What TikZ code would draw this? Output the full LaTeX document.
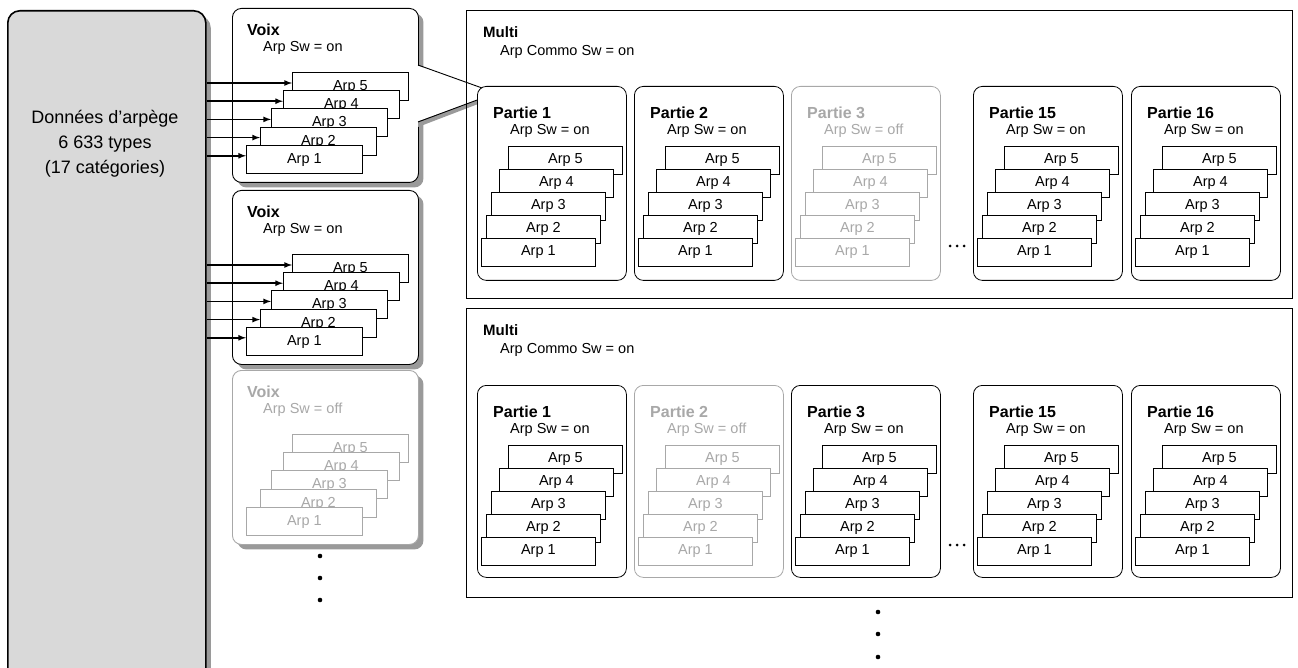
\documentclass[tikz,border=0pt]{standalone}
\usepackage{fontspec}
\setmainfont{Liberation Sans}
\usetikzlibrary{shadows}
\definecolor{OffGray}{HTML}{A8A8A8}
\definecolor{DataGray}{HTML}{D9D9D9}
\definecolor{ShadowGray}{HTML}{9A9A9A}

\tikzset{
  shad/.style={drop shadow={shadow xshift=5pt, shadow yshift=-5pt, fill=ShadowGray, opacity=1}},
  voixbox/.style={draw, rounded corners=9pt, fill=white, line width=0.9pt, minimum width=186pt, minimum height=174pt, anchor=north west, inner sep=0pt},
  partbox/.style={draw, rounded corners=9pt, fill=white, line width=0.8pt, minimum width=149pt, minimum height=194pt, anchor=north west, inner sep=0pt},
  multibox/.style={draw, line width=0.6pt, minimum width=826pt, minimum height=288pt, anchor=north west, inner sep=0pt},
  arpbox/.style={draw, fill=white, line width=0.8pt, minimum width=116pt, minimum height=28pt, anchor=north west, inner sep=0pt},
  arptext/.style={font=\fontsize{14.5}{16}\selectfont, inner sep=0pt},
  ttl/.style={font=\bfseries\fontsize{16}{18}\selectfont, anchor=west, inner sep=0pt},
  sub/.style={font=\fontsize{14.5}{16}\selectfont, anchor=west, inner sep=0pt},
  arr/.style={-latex, line width=1.6pt},
}

\newcommand{\voixstack}[4]{% name, x, y, colour
  \foreach \i/\o in {5/60,4/51,3/39,2/28,1/14}{%
    \node[arpbox, draw=#4] (#1\i) at ({#2+\o},{#3+64+(5-\i)*18.2}) {};
    \node[arptext, text=#4] at ([yshift=-15pt]#1\i.north) {Arp \i};
    \coordinate (#1\i in) at ([yshift=-11pt]#1\i.north west);
  }%
}
\newcommand{\partstack}[4]{% name, x, y, colour
  \foreach \i/\o in {5/31,4/22,3/14,2/9,1/4}{%
    \node[arpbox, draw=#4, minimum width=114pt] (#1\i) at ({#2+\o},{#3+60+(5-\i)*23}) {};
    \node[arptext, text=#4] at ([yshift=-14pt]#1\i.north) {Arp \i};
  }%
}

\begin{document}
\begin{tikzpicture}[x=1pt, y=-1pt]
\useasboundingbox (0,0) rectangle (1298,668);

% data
\node[draw, line width=1.6pt, rounded corners=12pt, fill=DataGray, shad, minimum width=198pt, minimum height=680pt, anchor=north west] (data) at (7,10) {};
\node[align=center, font=\fontsize{18}{25}\selectfont] (datatxt) at (105,144) {Données d'arpège\\6 633 types\\(17 catégories)};

% voix
\node[voixbox, shad] (voix1) at (232,8) {};
\node[voixbox, shad] (voix2) at (232,190) {};
\node[voixbox, shad, draw=OffGray] (voix3) at (232,370) {};

% callout
\fill[ShadowGray] (418,68) -- (499,96) -- (418,127) -- cycle;
\fill[white] (416,65) -- (496,93) -- (416,122) -- cycle;
\coordinate (tip) at (496,93);
\draw[line width=0.9pt] (418,65) -- (tip) -- (418,122);

\foreach \v/\c/\s in {1/black/on,2/black/on,3/OffGray/off}{
  \node[ttl, text=\c] (vt\v) at ([xshift=15pt, yshift=-22pt]voix\v.north west) {Voix};
  \node[sub, text=\c] (vs\v) at ([xshift=31pt, yshift=-40pt]voix\v.north west) {Arp Sw = \s};
}
\voixstack{va}{232}{8}{black}
\voixstack{vb}{232}{190}{black}
\voixstack{vc}{232}{370}{OffGray}

\foreach \i in {5,4,3,2,1}{
  \draw[arr] (data.east |- va\i in) -- (va\i in);
  \draw[arr] (data.east |- vb\i in) -- (vb\i in);
}

\foreach \y in {556,578,600} \fill (320,\y) circle (2.3pt);

% multi
\node[multibox] (multi1) at (466,10) {};
\node[multibox, minimum height=289pt] (multi2) at (466,308) {};
\foreach \m in {1,2}{
  \node[ttl, font=\bfseries\fontsize{15}{17}\selectfont] (mt\m) at ([xshift=17pt, yshift=-22pt]multi\m.north west) {Multi};
  \node[sub] (ms\m) at ([xshift=34pt, yshift=-42pt]multi\m.north west) {Arp Commo Sw = on};
}

% parties
\foreach \x/\n/\c/\s [count=\k] in {477/1/black/on,634/2/black/on,791/3/OffGray/off,973/15/black/on,1131/16/black/on}{
  \node[partbox, draw=\c] (pa\k) at (\x,86) {};
  \node[ttl, text=\c] at ([xshift=16pt, yshift=-27pt]pa\k.north west) {Partie \n};
  \node[sub, text=\c] at ([xshift=33pt, yshift=-45pt]pa\k.north west) {Arp Sw = \s};
  \partstack{pa\k a}{\x}{86}{\c}
}
\foreach \x/\n/\c/\s [count=\k] in {477/1/black/on,634/2/OffGray/off,791/3/black/on,973/15/black/on,1131/16/black/on}{
  \node[partbox, draw=\c, minimum height=192pt] (pb\k) at (\x,385) {};
  \node[ttl, text=\c] at ([xshift=16pt, yshift=-27pt]pb\k.north west) {Partie \n};
  \node[sub, text=\c] at ([xshift=33pt, yshift=-45pt]pb\k.north west) {Arp Sw = \s};
  \partstack{pb\k a}{\x}{385}{\c}
}
\foreach \x in {950,957,964}{
  \fill (\x,246) circle (1.5pt);
  \fill (\x,545) circle (1.5pt);
}
\foreach \y in {612,634,657} \fill (878,\y) circle (2.3pt);
\end{tikzpicture}
\end{document}
